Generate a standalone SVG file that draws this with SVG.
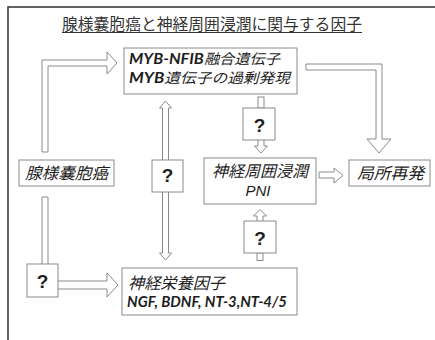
<svg xmlns="http://www.w3.org/2000/svg" width="435" height="340" viewBox="0 0 435 340">
<style>
.box{fill:#fff;stroke:#8a8a8a;stroke-width:1}
.arr{fill:#fff;stroke:#8a8a8a;stroke-width:1;stroke-linejoin:miter}
.jp{font-family:"Noto Sans CJK JP",sans-serif;font-style:italic;fill:#1e1e1e}
.lat{font-family:Lato,"Liberation Sans",sans-serif;font-style:italic;font-weight:bold}
.q{font-family:"Liberation Sans",Arial,sans-serif;font-weight:bold;font-size:19px;fill:#1e1e1e;text-anchor:middle}
</style>
<rect x="0" y="0" width="435" height="340" fill="#fff"/>
<rect x="8" y="7" width="440" height="345" fill="none" stroke="#3c3c3c" stroke-width="1.6"/>
<g id="title">
<text x="62" y="30" font-family="Noto Sans CJK JP,sans-serif" font-size="15.8" fill="#333" textLength="300" lengthAdjust="spacingAndGlyphs">腺様嚢胞癌と神経周囲浸潤に関与する因子</text>
<line x1="62" y1="32.5" x2="362" y2="32.5" stroke="#333" stroke-width="1"/>
</g>
<g id="connectors">
<path class="arr" d="M42,152 L42,60 L107,60 L107,52 L117,63 L107,74 L107,66 L48,66 L48,152 Z"/>
<path class="arr" d="M42,264 L42,197 L48,197 L48,264"/>
<path class="arr" d="M58,281 L107,281 L107,273 L118,285 L107,297 L107,289 L58,289"/>
<path class="arr" d="M165.5,101 L171.5,108 L168.5,108 L168.5,253 L171.5,253 L165.5,260 L159.5,253 L162.5,253 L162.5,108 L159.5,108 Z"/>
<path class="arr" d="M306,64 L382,64 L382,139 L391,139 L379,153 L367,139 L376,139 L376,70 L306,70 Z"/>
<path class="arr" d="M319,172 L334,172 L334,168 L343,175.5 L334,183 L334,178 L319,178 Z"/>
<rect class="arr" x="258" y="97" width="6" height="11"/>
<path class="arr" d="M258,140 L258,146 L254.5,146 L261,153 L267.5,146 L264,146 L264,140"/>
<path class="arr" d="M257,221 L257,216 L253.5,216 L260,209.5 L266.5,216 L263,216 L263,221"/>
<rect class="arr" x="257" y="253" width="6" height="7.5"/>
</g>
<g id="node-myb">
<rect class="box" x="124" y="48" width="173" height="46"/>
<text class="jp" x="129" y="64" font-size="14" textLength="151" lengthAdjust="spacingAndGlyphs"><tspan class="lat" font-size="15">MYB-NFIB</tspan>融合遺伝子</text>
<text class="jp" x="129" y="82.5" font-size="14" textLength="161" lengthAdjust="spacingAndGlyphs"><tspan class="lat" font-size="15">MYB</tspan>遺伝子の過剰発現</text>
</g>
<g id="node-acc">
<rect class="box" x="19" y="160" width="95" height="26"/>
<text class="jp" x="25" y="179" font-size="16" textLength="83" lengthAdjust="spacingAndGlyphs">腺様嚢胞癌</text>
</g>
<g id="node-q-mid">
<rect class="box" x="152" y="160" width="31" height="32"/>
<text class="q" x="167.5" y="182">?</text>
</g>
<g id="node-q-top">
<rect class="box" x="243" y="108" width="32" height="32"/>
<text class="q" x="259.5" y="131.5">?</text>
</g>
<g id="node-pni">
<rect class="box" x="204" y="158" width="112" height="46"/>
<text class="jp" x="212" y="177" font-size="16" textLength="96" lengthAdjust="spacingAndGlyphs">神経周囲浸潤</text>
<text x="258" y="196" font-family="Liberation Sans,Arial,sans-serif" font-style="italic" font-size="15" fill="#1e1e1e" text-anchor="middle">PNI</text>
</g>
<g id="node-recur">
<rect class="box" x="349" y="160" width="81" height="26"/>
<text class="jp" x="357" y="179" font-size="16" textLength="67" lengthAdjust="spacingAndGlyphs">局所再発</text>
</g>
<g id="node-q-bot">
<rect class="box" x="244" y="221" width="32" height="32"/>
<text class="q" x="260" y="245">?</text>
</g>
<g id="node-q-left">
<rect class="box" x="27" y="264" width="31" height="33"/>
<text class="q" x="42.5" y="288">?</text>
</g>
<g id="node-ntf">
<rect class="box" x="122" y="268" width="175" height="47"/>
<text class="jp" x="128" y="289" font-size="16" textLength="97" lengthAdjust="spacingAndGlyphs">神経栄養因子</text>
<text class="jp lat" x="127" y="307" font-size="15" fill="#1e1e1e" textLength="160" lengthAdjust="spacingAndGlyphs">NGF, BDNF, NT-3,NT-4/5</text>
</g>
</svg>
